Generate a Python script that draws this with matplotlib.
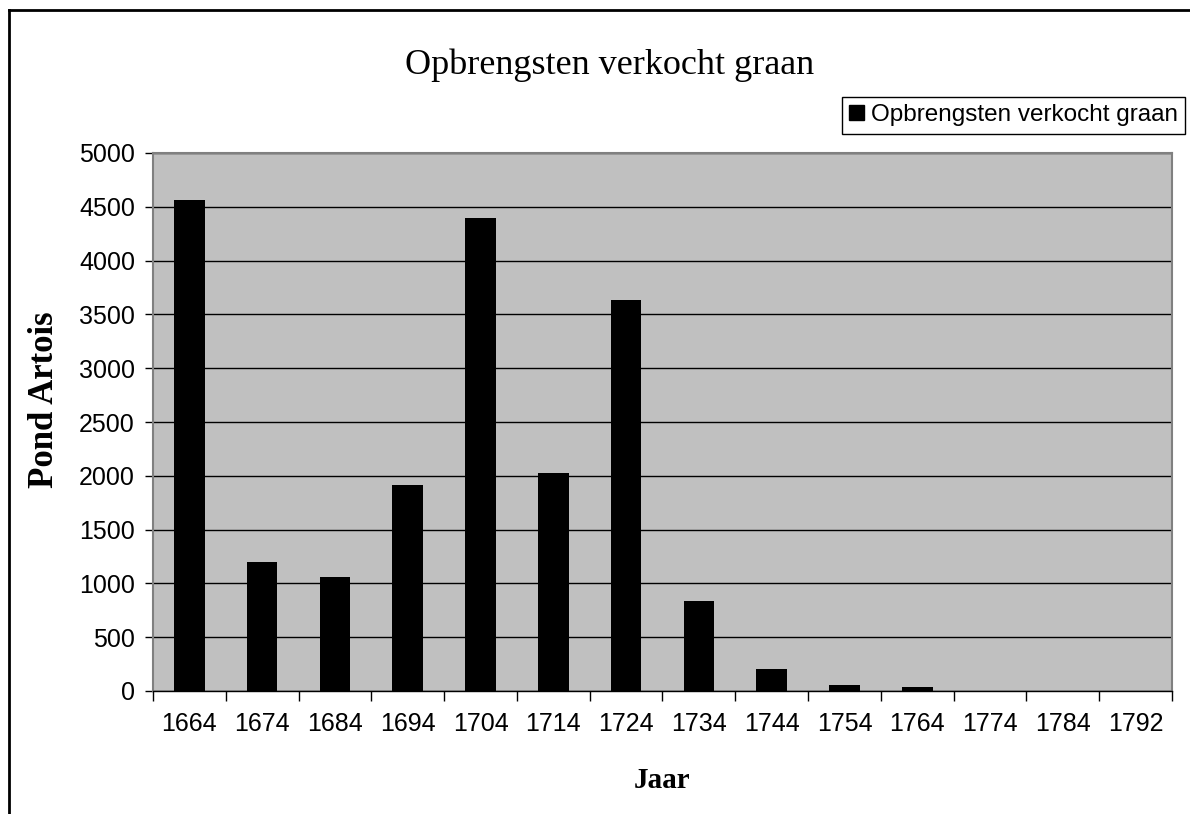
import numpy as np
import matplotlib
matplotlib.use('Agg')
import matplotlib.pyplot as plt
from matplotlib.patches import Patch
from matplotlib.lines import Line2D

years = ['1664', '1674', '1684', '1694', '1704', '1714', '1724',
         '1734', '1744', '1754', '1764', '1774', '1784', '1792']
opbrengsten = [4560, 1200, 1055, 1910, 4395, 2030, 3635,
               835, 202, 56, 37, 0, 0, 0]

W, H = 1190, 814
fig = plt.figure(figsize=(W/100, H/100), dpi=100)
ax = fig.add_axes([153/W, 1-691/H, (1172-153)/W, (691-153)/H])

x = np.arange(len(years))
ax.set_facecolor('#C0C0C0')
ax.bar(x, opbrengsten, width=0.42, color='black', zorder=3,
       label='Opbrengsten verkocht graan')

ax.set_xlim(-0.5, len(years)-0.5)
ax.set_ylim(0, 5000)
ax.set_yticks(range(0, 5001, 500))
ax.yaxis.grid(True, color='black', linewidth=1, zorder=1)

ax.set_xticks(x)
ax.set_xticklabels(years, fontsize=18, family='Liberation Sans')
ax.set_xticks(np.arange(-0.5, len(years), 1), minor=True)
ax.tick_params(axis='x', which='major', length=0, pad=15)
ax.tick_params(axis='x', which='minor', length=7, width=1, color='black')
ax.tick_params(axis='y', length=6, width=1, pad=7, labelsize=18)
for t in ax.get_yticklabels():
    t.set_family('Liberation Sans')

for s in ['left', 'right', 'top']:
    ax.spines[s].set_color('#808080')
    ax.spines[s].set_linewidth(1.5)
ax.spines['bottom'].set_color('black')
ax.spines['bottom'].set_linewidth(1)

fig.text(610/W, 1-65/H, 'Opbrengsten verkocht graan', ha='center', va='center',
         fontsize=26, family='Liberation Serif')
fig.text(662/W, 1-781/H, 'Jaar', ha='center', va='center', fontsize=21,
         family='Liberation Serif', fontweight='bold')
fig.text(45/W, 1-400/H, 'Pond Artois', ha='center', va='center', fontsize=25,
         family='Liberation Serif', fontweight='bold', rotation=90)

leg = fig.legend(handles=[Patch(facecolor='black', edgecolor='black',
                                label='Opbrengsten verkocht graan')],
                 loc='upper left', bbox_to_anchor=(842/W, 1-97/H),
                 fancybox=False, framealpha=1, edgecolor='black',
                 prop={'family': 'Liberation Sans', 'size': 17.5},
                 handlelength=0.6, handleheight=0.6, handletextpad=0.3,
                 borderpad=0.3, borderaxespad=0)
leg.get_frame().set_linewidth(1)

# outer chart border (right/bottom fall outside the picture)
fig.add_artist(Line2D([9/W, 9/W], [0, 1-10/H], color='black', lw=2,
                      transform=fig.transFigure))
fig.add_artist(Line2D([9/W, 1], [1-10/H, 1-10/H], color='black', lw=2,
                      transform=fig.transFigure))

fig.savefig('out.png', dpi=100)
